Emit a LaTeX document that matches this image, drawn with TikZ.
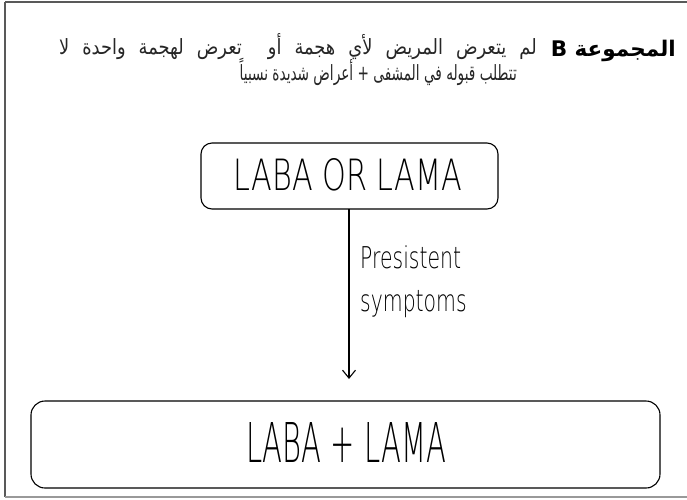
\documentclass[tikz,border=0pt]{standalone}
\usepackage{fontspec}
\usetikzlibrary{arrows.meta}
\TeXXeTstate=1
\newfontfamily\arabicfont[Script=Arabic]{DejaVu Sans}
\newfontfamily\arabicbold[Script=Arabic]{DejaVu Sans Bold}
\newfontfamily\thinfont{DejaVu Sans ExtraLight}
\begin{document}
\begin{tikzpicture}[x=1pt,y=-1pt,
  frame/.style={draw=black!65,line width=1.8pt},
  flowbox/.style={draw=black,line width=1.1pt,rounded corners=11pt},
  ar/.style={inner sep=0pt,text=black!85,font=\fontsize{21}{24}\arabicfont},
  conn/.style={draw=black,line width=1.1pt,-{Straight Barb[length=8pt,width=13pt,line width=1.1pt]}}]
  \useasboundingbox (0,0) rectangle (687,499);
  % outer frame
  \draw[frame] (5,2) -- (687,2);
  \draw[frame] (5,2) -- (5,497);
  \draw[draw=black!40,line width=1.8pt] (5,497) -- (687,497);
  % heading: group label and its justified two-line description
  \node[ar,anchor=base east,text=black] (title) at (676,56)
    {\resizebox{125pt}{!}{\arabicbold\beginR المجموعة B\endR}};
  \node[ar,anchor=base east] (l1) at (537,54)
    {\scalebox{0.85}[1]{\hbox to 562pt{\beginR لم\hfill يتعرض\hfill المريض\hfill لأي\hfill هجمة\hfill أو\hfill\hfill تعرض\hfill لهجمة\hfill واحدة\hfill لا\endR}}};
  \node[ar,anchor=base east] (l2) at (517,80)
    {\scalebox{0.65}[1]{\beginR تتطلب قبوله في المشفى + أعراض شديدة نسبياً\endR}};
  % flow boxes
  \draw[flowbox] (201,143) rectangle (498,209);
  \coordinate (topS) at (349,209);
  \node[inner sep=0pt] (top) at (348,175)
    {\resizebox{228pt}{32pt}{\thinfont LABA OR LAMA}};
  \draw[flowbox,rounded corners=14pt] (31,401) rectangle (660,488);
  \coordinate (botN) at (349,401);
  \node[inner sep=0pt] (bot) at (346,442.5)
    {\resizebox{200pt}{40pt}{\thinfont LABA + LAMA}};
  % connector and its label
  \draw[conn,shorten >=22pt] (topS) -- (botN);
  \node[inner sep=0pt,anchor=base west] (lab1) at (360,268)
    {\scalebox{0.68}[1]{\fontsize{30}{36}\thinfont Presistent}};
  \node[inner sep=0pt,anchor=base west] (lab2) at (360,311)
    {\scalebox{0.68}[1]{\fontsize{30}{36}\thinfont symptoms}};
\end{tikzpicture}
\end{document}
